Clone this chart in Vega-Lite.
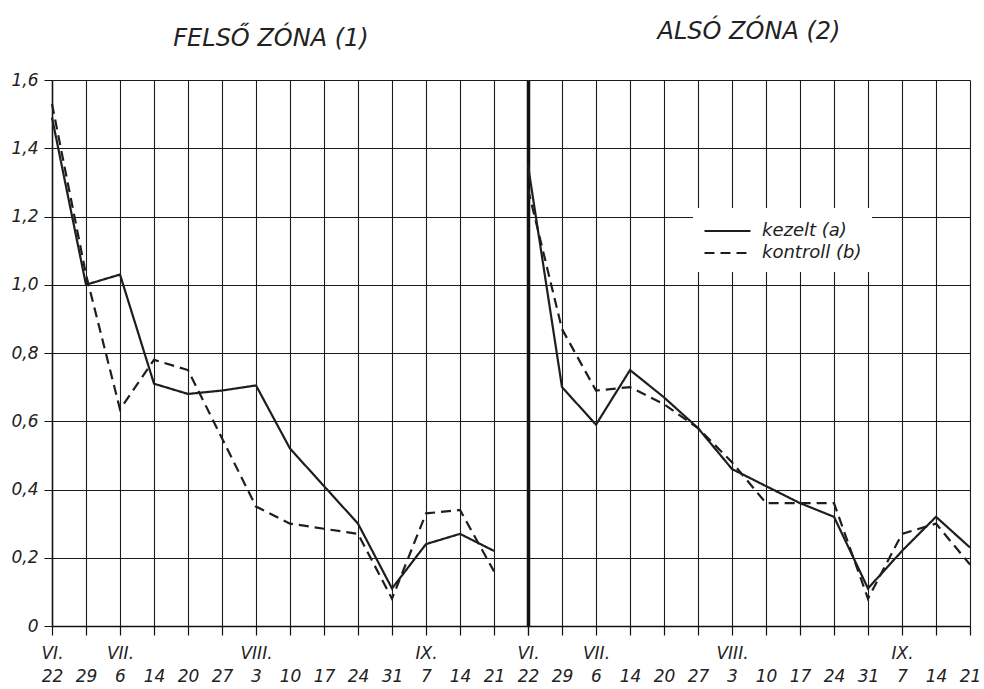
{
  "$schema": "https://vega.github.io/schema/vega-lite/v6.json",
  "padding": {"left": 10, "top": 20, "right": 5, "bottom": 5},
  "background": "white",
  "spacing": 0,
  "bounds": "flush",
  "config": {
    "font": "DejaVu Sans",
    "view": {"stroke": null},
    "axis": {
      "gridColor": "#1a1a1a", "gridWidth": 1.1, "gridOpacity": 1,
      "domainColor": "#111", "tickColor": "#111", "labelColor": "#222",
      "labelFont": "DejaVu Sans", "labelFontStyle": "italic", "labelFontSize": 17,
      "labelOverlap": false, "labelBound": false
    }
  },
  "datasets": {
    "felso": [
      {"datum": "VI. 22", "sorozat": "kezelt (a)", "ertek": 1.49},
      {"datum": "VI. 29", "sorozat": "kezelt (a)", "ertek": 1.0},
      {"datum": "VII. 6", "sorozat": "kezelt (a)", "ertek": 1.03},
      {"datum": "VII. 14", "sorozat": "kezelt (a)", "ertek": 0.71},
      {"datum": "VII. 20", "sorozat": "kezelt (a)", "ertek": 0.68},
      {"datum": "VII. 27", "sorozat": "kezelt (a)", "ertek": 0.69},
      {"datum": "VIII. 3", "sorozat": "kezelt (a)", "ertek": 0.705},
      {"datum": "VIII. 10", "sorozat": "kezelt (a)", "ertek": 0.52},
      {"datum": "VIII. 17", "sorozat": "kezelt (a)", "ertek": 0.41},
      {"datum": "VIII. 24", "sorozat": "kezelt (a)", "ertek": 0.3},
      {"datum": "VIII. 31", "sorozat": "kezelt (a)", "ertek": 0.11},
      {"datum": "IX. 7", "sorozat": "kezelt (a)", "ertek": 0.24},
      {"datum": "IX. 14", "sorozat": "kezelt (a)", "ertek": 0.27},
      {"datum": "IX. 21", "sorozat": "kezelt (a)", "ertek": 0.22},
      {"datum": "VI. 22", "sorozat": "kontroll (b)", "ertek": 1.53},
      {"datum": "VI. 29", "sorozat": "kontroll (b)", "ertek": 1.03},
      {"datum": "VII. 6", "sorozat": "kontroll (b)", "ertek": 0.635},
      {"datum": "VII. 14", "sorozat": "kontroll (b)", "ertek": 0.78},
      {"datum": "VII. 20", "sorozat": "kontroll (b)", "ertek": 0.75},
      {"datum": "VII. 27", "sorozat": "kontroll (b)", "ertek": 0.55},
      {"datum": "VIII. 3", "sorozat": "kontroll (b)", "ertek": 0.35},
      {"datum": "VIII. 10", "sorozat": "kontroll (b)", "ertek": 0.3},
      {"datum": "VIII. 17", "sorozat": "kontroll (b)", "ertek": 0.285},
      {"datum": "VIII. 24", "sorozat": "kontroll (b)", "ertek": 0.27},
      {"datum": "VIII. 31", "sorozat": "kontroll (b)", "ertek": 0.08},
      {"datum": "IX. 7", "sorozat": "kontroll (b)", "ertek": 0.33},
      {"datum": "IX. 14", "sorozat": "kontroll (b)", "ertek": 0.34},
      {"datum": "IX. 21", "sorozat": "kontroll (b)", "ertek": 0.16}
    ],
    "also": [
      {"datum": "VI. 22", "sorozat": "kezelt (a)", "ertek": 1.35},
      {"datum": "VI. 29", "sorozat": "kezelt (a)", "ertek": 0.7},
      {"datum": "VII. 6", "sorozat": "kezelt (a)", "ertek": 0.59},
      {"datum": "VII. 14", "sorozat": "kezelt (a)", "ertek": 0.75},
      {"datum": "VII. 20", "sorozat": "kezelt (a)", "ertek": 0.67},
      {"datum": "VII. 27", "sorozat": "kezelt (a)", "ertek": 0.58},
      {"datum": "VIII. 3", "sorozat": "kezelt (a)", "ertek": 0.46},
      {"datum": "VIII. 10", "sorozat": "kezelt (a)", "ertek": 0.41},
      {"datum": "VIII. 17", "sorozat": "kezelt (a)", "ertek": 0.36},
      {"datum": "VIII. 24", "sorozat": "kezelt (a)", "ertek": 0.32},
      {"datum": "VIII. 31", "sorozat": "kezelt (a)", "ertek": 0.11},
      {"datum": "IX. 7", "sorozat": "kezelt (a)", "ertek": 0.22},
      {"datum": "IX. 14", "sorozat": "kezelt (a)", "ertek": 0.32},
      {"datum": "IX. 21", "sorozat": "kezelt (a)", "ertek": 0.23},
      {"datum": "VI. 22", "sorozat": "kontroll (b)", "ertek": 1.28},
      {"datum": "VI. 29", "sorozat": "kontroll (b)", "ertek": 0.87},
      {"datum": "VII. 6", "sorozat": "kontroll (b)", "ertek": 0.69},
      {"datum": "VII. 14", "sorozat": "kontroll (b)", "ertek": 0.7},
      {"datum": "VII. 20", "sorozat": "kontroll (b)", "ertek": 0.65},
      {"datum": "VII. 27", "sorozat": "kontroll (b)", "ertek": 0.58},
      {"datum": "VIII. 3", "sorozat": "kontroll (b)", "ertek": 0.48},
      {"datum": "VIII. 10", "sorozat": "kontroll (b)", "ertek": 0.36},
      {"datum": "VIII. 17", "sorozat": "kontroll (b)", "ertek": 0.36},
      {"datum": "VIII. 24", "sorozat": "kontroll (b)", "ertek": 0.36},
      {"datum": "VIII. 31", "sorozat": "kontroll (b)", "ertek": 0.08},
      {"datum": "IX. 7", "sorozat": "kontroll (b)", "ertek": 0.27},
      {"datum": "IX. 14", "sorozat": "kontroll (b)", "ertek": 0.3},
      {"datum": "IX. 21", "sorozat": "kontroll (b)", "ertek": 0.18}
    ]
  },
  "hconcat": [
    {
      "width": 476,
      "height": 546,
      "title": {"text": "FELSŐ ZÓNA (1)", "dx": -19, "offset": 20, "fontSize": 24, "fontStyle": "italic", "fontWeight": "normal", "font": "DejaVu Sans", "color": "#222"},
      "data": {"name": "felso"},
      "mark": {"type": "line", "color": "#1e1e1e", "strokeWidth": 2.2},
      "encoding": {
        "x": {
          "field": "datum", "type": "ordinal",
          "scale": {"type": "point", "padding": 0, "domain": ["VI. 22","VI. 29","VII. 6","VII. 14","VII. 20","VII. 27","VIII. 3","VIII. 10","VIII. 17","VIII. 24","VIII. 31","IX. 7","IX. 14","IX. 21","_"]},
          "axis": {
            "title": null, "grid": true, "tickSize": 9, "tickWidth": 1.2, "domainWidth": 1.6,
            "labelPadding": 10, "labelLineHeight": 23, "labelAngle": 0, "labelAlign": "center", "labelBaseline": "top",
            "labelExpr": "datum.value == '_' ? '' : (indexof(['VI. 22','VII. 6','VIII. 3','IX. 7'], datum.value) >= 0 ? split(datum.value, ' ') : ['', split(datum.value, ' ')[1]])"
          }
        },
        "y": {
          "field": "ertek", "type": "quantitative",
          "scale": {"domain": [0, 1.6], "nice": false},
          "axis": {
            "title": null, "values": [0,0.2,0.4,0.6,0.8,1,1.2,1.4,1.6], "grid": true, "tickSize": 8, "labelPadding": 6, "domainWidth": 1.5,
            "labelExpr": "datum.value == 0 ? '0' : replace(format(datum.value, '.1f'), '.', ',')"
          }
        },
        "strokeDash": {
          "field": "sorozat", "type": "nominal",
          "scale": {"domain": ["kezelt (a)", "kontroll (b)"], "range": [[1, 0], [10, 6]]},
          "legend": null
        }
      }
    },
    {
      "width": 442,
      "height": 546,
      "title": {"text": "ALSÓ ZÓNA (2)", "offset": 36, "fontSize": 24, "fontStyle": "italic", "fontWeight": "normal", "font": "DejaVu Sans", "color": "#222"},
      "data": {"name": "also"},
      "mark": {"type": "line", "color": "#1e1e1e", "strokeWidth": 2.2},
      "encoding": {
        "x": {
          "field": "datum", "type": "ordinal",
          "scale": {"type": "point", "padding": 0, "domain": ["VI. 22","VI. 29","VII. 6","VII. 14","VII. 20","VII. 27","VIII. 3","VIII. 10","VIII. 17","VIII. 24","VIII. 31","IX. 7","IX. 14","IX. 21"]},
          "axis": {
            "title": null, "grid": true, "tickSize": 9, "tickWidth": 1.2, "domainWidth": 1.6,
            "labelPadding": 10, "labelLineHeight": 23, "labelAngle": 0, "labelAlign": "center", "labelBaseline": "top",
            "labelExpr": "indexof(['VI. 22','VII. 6','VIII. 3','IX. 7'], datum.value) >= 0 ? split(datum.value, ' ') : ['', split(datum.value, ' ')[1]]"
          }
        },
        "y": {
          "field": "ertek", "type": "quantitative",
          "scale": {"domain": [0, 1.6], "nice": false},
          "axis": {
            "title": null, "values": [0,0.2,0.4,0.6,0.8,1,1.2,1.4,1.6], "grid": true, "ticks": false, "labels": false, "domainWidth": 3.5, "domainColor": "#111",
            "minExtent": 0, "maxExtent": 0, "labelPadding": 0
          }
        },
        "strokeDash": {
          "field": "sorozat", "type": "nominal",
          "scale": {"domain": ["kezelt (a)", "kontroll (b)"], "range": [[1, 0], [10, 6]]},
          "legend": {
            "orient": "none", "legendX": 165, "legendY": 128, "title": null,
            "fillColor": "white", "padding": 10,
            "symbolType": "M -1,0 L 3,0", "symbolSize": 529, "symbolStrokeWidth": 2.2, "symbolStrokeColor": "#1e1e1e", "symbolFillColor": "transparent",
            "labelFontSize": 18, "labelFontStyle": "italic", "labelFont": "DejaVu Sans", "labelColor": "#222", "labelOffset": 33, "rowPadding": 0
          }
        }
      }
    }
  ],
  "resolve": {"scale": {"strokeDash": "independent", "x": "independent", "y": "independent"}, "legend": {"strokeDash": "independent"}}
}
